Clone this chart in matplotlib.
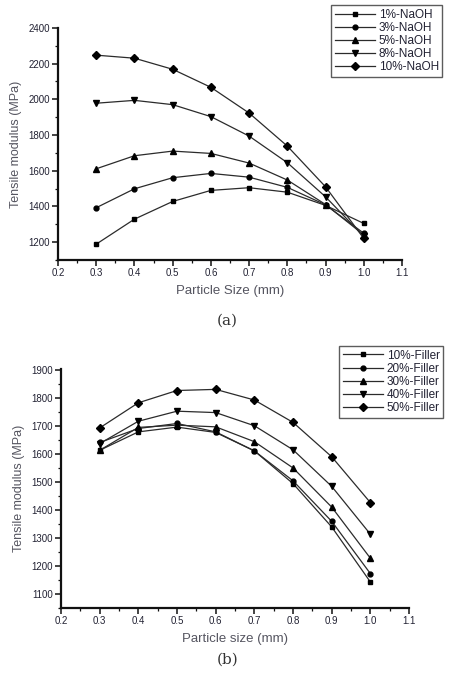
import numpy as np
import matplotlib.pyplot as plt
from matplotlib.ticker import MultipleLocator

plt.rcParams['font.family'] = ['Liberation Sans', 'DejaVu Sans']

# datos
tamano = [0.3, 0.4, 0.5, 0.6, 0.7, 0.8, 0.9, 1.0]

naoh_labels = ['1%-NaOH', '3%-NaOH', '5%-NaOH', '8%-NaOH', '10%-NaOH']
naoh_1 = [1189, 1329, 1428, 1490, 1505, 1480, 1406, 1305]
naoh_3 = [1393, 1499, 1561, 1585, 1564, 1507, 1409, 1250]
naoh_5 = [1611, 1684, 1710, 1697, 1643, 1548, 1411, 1241]
naoh_8 = [1978, 1994, 1970, 1903, 1794, 1645, 1454, 1232]
naoh_10 = [2247, 2230, 2168, 2067, 1923, 1738, 1510, 1221]

filler_labels = ['10%-Filler', '20%-Filler', '30%-Filler', '40%-Filler', '50%-Filler']
filler_10 = [1613, 1679, 1696, 1677, 1611, 1494, 1339, 1142]
filler_20 = [1641, 1691, 1709, 1679, 1611, 1504, 1359, 1172]
filler_30 = [1613, 1695, 1703, 1697, 1644, 1550, 1410, 1227]
filler_40 = [1637, 1717, 1753, 1748, 1701, 1615, 1484, 1313]
filler_50 = [1693, 1783, 1827, 1831, 1793, 1713, 1590, 1426]

marcadores = ['s', 'o', '^', 'v', 'D']
tamanos_marc = [3.5, 3.5, 5, 5, 4]
color_linea = '#2b2b2b'
color_texto = '#555560'
color_ticks = '#222233'


def dibujar(ax, series, etiquetas, xlabel, ylim, ymajor, yminor, leg_bbox):
    for y, lab, m, ms in zip(series, etiquetas, marcadores, tamanos_marc):
        ax.plot(tamano, y, color=color_linea, lw=0.9, marker=m, ms=ms,
                mfc='black', mec='black', label=lab)
    ax.set_xlim(0.2, 1.1)
    ax.set_ylim(*ylim)
    ax.xaxis.set_major_locator(MultipleLocator(0.1))
    ax.xaxis.set_minor_locator(MultipleLocator(0.05))
    ax.yaxis.set_major_locator(MultipleLocator(ymajor))
    ax.yaxis.set_minor_locator(MultipleLocator(yminor))
    ax.set_xticklabels([f'{v:.1f}' for v in ax.get_xticks()])
    ax.spines['top'].set_visible(False)
    ax.spines['right'].set_visible(False)
    for s in ('left', 'bottom'):
        ax.spines[s].set_linewidth(1.6)
        ax.spines[s].set_color('#111111')
    ax.tick_params(which='major', direction='out', length=4, width=1.1,
                   labelsize=7, labelcolor=color_ticks, color='#111111', pad=2)
    ax.tick_params(which='minor', direction='out', length=2.5, width=0.9,
                   color='#111111')
    ax.set_xlabel(xlabel, fontsize=9.5, color=color_texto, labelpad=5)
    ax.set_ylabel('Tensile modulus (MPa)', fontsize=9, color=color_texto, labelpad=4)
    leg = ax.legend(loc='upper right', bbox_to_anchor=leg_bbox,
                    bbox_transform=ax.figure.transFigure,
                    fontsize=8.5, frameon=True, fancybox=False,
                    handlelength=3.4, handletextpad=0.3, labelspacing=0.1,
                    borderpad=0.3, labelcolor=color_ticks)
    leg.get_frame().set_edgecolor('#333333')
    leg.get_frame().set_linewidth(1.0)


fig = plt.figure(figsize=(4.55, 6.79), dpi=100)

ax1 = fig.add_axes([0.1275, 0.617, 0.756, 0.342])
dibujar(ax1, [naoh_1, naoh_3, naoh_5, naoh_8, naoh_10], naoh_labels,
        'Particle Size (mm)', (1100, 2400), 200, 100, (0.985, 1.001))

ax2 = fig.add_axes([0.134, 0.105, 0.765, 0.352])
dibujar(ax2, [filler_10, filler_20, filler_30, filler_40, filler_50], filler_labels,
        'Particle size (mm)', (1050, 1905), 100, 50, (0.987, 0.499))

fig.text(0.5, 0.528, '(a)', ha='center', va='center', fontsize=11,
         family='DejaVu Serif', color='#333333')
fig.text(0.5, 0.028, '(b)', ha='center', va='center', fontsize=11,
         family='DejaVu Serif', color='#333333')

fig.savefig('out.png', dpi=100)
